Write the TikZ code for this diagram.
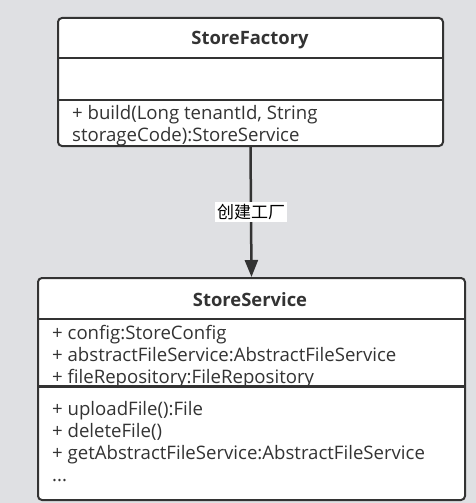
\documentclass[tikz,border=0pt]{standalone}
\usepackage{fontspec}
\setmainfont{Open Sans}
\newfontfamily\cjk{Noto Sans CJK SC}
\usetikzlibrary{arrows.meta}
\definecolor{bggray}{HTML}{DFE0E3}
\definecolor{umlline}{HTML}{333333}
\tikzset{
  classbox/.style={draw=umlline, line width=2pt, fill=white, rounded corners=4pt, anchor=north west, inner sep=0pt},
  divider/.style={draw=umlline, line width=2pt},
  classname/.style={font=\bfseries\fontsize{18.4}{20}\selectfont, text=umlline},
  members/.style={font=\fontsize{18.6}{22}\selectfont, text=umlline, align=left, anchor=west, inner sep=0pt},
}
\begin{document}
\begin{tikzpicture}[x=1pt, y=-1pt, >={Triangle[length=17pt, width=13pt]}]
      \fill[bggray] (0,0) rectangle (476,503);
      \useasboundingbox (0,0) rectangle (476,503);

      % StoreFactory
      \node[classbox, minimum width=385pt, minimum height=128pt] (factory) at (57,17) {};
      \draw[divider] (factory.west |- 0,58) -- (factory.east |- 0,58);
      \draw[divider] (factory.west |- 0,100) -- (factory.east |- 0,100);
      \node[classname] (factoryname) at (250,40) {StoreFactory};
      \node[members] (factoryops) at (72,126) {+ build(Long tenantId, String\\storageCode):StoreService};

      % StoreService
      \node[classbox, minimum width=427pt, minimum height=222pt] (service) at (37,277) {};
      \draw[divider] (service.west |- 0,319) -- (service.east |- 0,319);
      \draw[divider, line width=3pt] (service.west |- 0,386.5) -- (service.east |- 0,386.5);
      \node[classname] (servicename) at (250,300) {StoreService};
      \node[members] (serviceattrs) at (52,356.5) {+ config:StoreConfig\\+ abstractFileService:AbstractFileService\\+ fileRepository:FileRepository};
      \node[members] (serviceops) at (52,442) {+ uploadFile():File\\+ deleteFile()\\+ getAbstractFileService:AbstractFileService\\...};

      \draw[->, draw=umlline, fill=umlline, line width=2.5pt] (factory.south) -- node[fill=white, font=\cjk\fontsize{17}{17}\selectfont, inner sep=2pt] (factorylabel) {创建工厂} (service.north);
    \end{tikzpicture}
\end{document}
